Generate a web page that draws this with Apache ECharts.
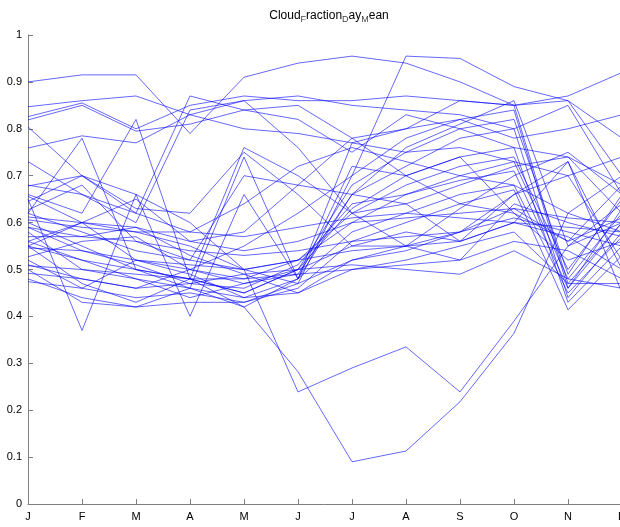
<!DOCTYPE html>
<html><head><meta charset="utf-8">
<script src="https://cdn.jsdelivr.net/npm/echarts@6/dist/echarts.min.js"></script>
<style>html,body{margin:0;padding:0;background:#fff}#c{width:620px;height:527px}</style>
</head><body><div id="c"></div>
<script>
const months = ['J','F','M','A','M','J','J','A','S','O','N','D'];
const yTicks = [0,0.1,0.2,0.3,0.4,0.5,0.6,0.7,0.8,0.9,1];
// high lines
const h1 = [0.900,0.915,0.915,0.790,0.910,0.940,0.955,0.940,0.900,0.850,0.870,0.920];
const h2 = [0.550,0.600,0.520,0.500,0.550,0.620,0.700,0.955,0.950,0.890,0.860,0.780];
const h3 = [0.847,0.860,0.870,0.830,0.860,0.870,0.850,0.840,0.830,0.800,0.850,0.660];
const h4 = [0.826,0.855,0.800,0.850,0.870,0.860,0.860,0.870,0.860,0.850,0.860,0.700];
const h5 = [0.819,0.850,0.795,0.810,0.840,0.850,0.780,0.800,0.820,0.780,0.800,0.830];
const h6 = [0.759,0.785,0.770,0.830,0.800,0.790,0.770,0.750,0.760,0.730,0.700,0.740];
const h7 = [0.804,0.700,0.620,0.870,0.840,0.820,0.750,0.830,0.800,0.760,0.740,0.680];
// seasonal (low spring, high autumn, dip in Nov)
const n1 = [0.50,0.43,0.42,0.46,0.42,0.48,0.77,0.80,0.86,0.85,0.47,0.60];
const n2 = [0.52,0.46,0.44,0.45,0.43,0.47,0.70,0.78,0.82,0.84,0.46,0.63];
const n3 = [0.58,0.50,0.48,0.44,0.47,0.49,0.66,0.72,0.78,0.80,0.44,0.58];
const n4 = [0.60,0.55,0.50,0.48,0.45,0.50,0.63,0.70,0.74,0.76,0.43,0.55];
const n5 = [0.51,0.48,0.46,0.50,0.48,0.52,0.60,0.66,0.70,0.73,0.48,0.62];
const n6 = [0.56,0.52,0.48,0.46,0.44,0.48,0.58,0.62,0.66,0.68,0.45,0.57];
const n7 = [0.48,0.44,0.42,0.43,0.43,0.46,0.56,0.60,0.64,0.67,0.414,0.53];
const n8 = [0.62,0.58,0.54,0.52,0.50,0.52,0.62,0.68,0.72,0.74,0.50,0.65];
const n9 = [0.55,0.47,0.43,0.48,0.45,0.50,0.68,0.75,0.80,0.82,0.49,0.66];
const n10 = [0.59,0.54,0.51,0.47,0.46,0.51,0.64,0.66,0.69,0.71,0.46,0.60];
// flat middle lines
const f1 = [0.612,0.600,0.590,0.560,0.540,0.560,0.600,0.610,0.620,0.630,0.610,0.600];
const f2 = [0.606,0.590,0.580,0.580,0.570,0.590,0.610,0.620,0.610,0.600,0.590,0.580];
const f3 = [0.570,0.570,0.560,0.540,0.530,0.540,0.560,0.570,0.580,0.610,0.580,0.550];
const f4 = [0.546,0.540,0.520,0.510,0.500,0.520,0.540,0.550,0.560,0.600,0.570,0.500];
const f5 = [0.508,0.500,0.490,0.480,0.480,0.490,0.500,0.510,0.520,0.560,0.540,0.480];
const f6 = [0.492,0.480,0.460,0.470,0.490,0.500,0.510,0.500,0.490,0.540,0.480,0.460];
// zigzag lines
const z1 = [0.62,0.78,0.50,0.46,0.74,0.48,0.66,0.76,0.81,0.86,0.55,0.64];
const z2 = [0.66,0.62,0.82,0.48,0.76,0.70,0.62,0.55,0.52,0.64,0.60,0.57];
const z3 = [0.65,0.37,0.66,0.40,0.66,0.48,0.72,0.70,0.74,0.62,0.52,0.56];
const z4 = [0.678,0.70,0.63,0.62,0.75,0.66,0.55,0.55,0.58,0.66,0.73,0.50];
const z5 = [0.656,0.60,0.65,0.56,0.58,0.68,0.78,0.70,0.64,0.62,0.56,0.68];
const z6 = [0.645,0.70,0.66,0.60,0.50,0.47,0.52,0.55,0.63,0.70,0.75,0.66];
const z7 = [0.627,0.68,0.56,0.52,0.70,0.68,0.66,0.64,0.56,0.60,0.73,0.45];
const z8 = [0.73,0.66,0.60,0.84,0.86,0.76,0.62,0.64,0.68,0.72,0.74,0.62];
const m1 = [0.59,0.57,0.59,0.53,0.49,0.45,0.52,0.54,0.58,0.63,0.56,0.61];
const m2 = [0.527,0.56,0.57,0.50,0.47,0.50,0.55,0.58,0.56,0.66,0.70,0.52];
const m3 = [0.474,0.46,0.52,0.49,0.44,0.45,0.50,0.52,0.55,0.58,0.47,0.47];
const m4 = [0.68,0.66,0.62,0.58,0.64,0.72,0.76,0.73,0.70,0.68,0.62,0.70];
// outliers dropping in mid-year
const o1 = [0.55,0.52,0.50,0.48,0.42,0.282,0.09,0.113,0.218,0.364,0.62,0.58];
const o2 = [0.56,0.60,0.58,0.55,0.50,0.239,0.29,0.335,0.239,0.39,0.55,0.60];

const allLines = [h1,h2,h3,h4,h5,h6,h7,n1,n2,n3,n4,n5,n6,n7,n8,n9,n10,f1,f2,f3,f4,f5,f6,z1,z2,z3,z4,z5,z6,z7,z8,m1,m2,m3,m4,o1,o2];

const chart = echarts.init(document.getElementById('c'), null, {renderer:'canvas'});
const axisGray = '#7f7f7f';
chart.setOption({
  animation:false,
  title:{
    text:'{n|Cloud}{s|F}{n|raction}{s|D}{n|ay}{s|M}{n|ean}',
    left:324, textAlign:'center', top:2,
    textStyle:{
      fontWeight:'normal',
      rich:{
        n:{fontFamily:'Liberation Sans', fontSize:12, fontWeight:'normal', color:'#000', lineHeight:17, verticalAlign:'top', padding:[3,0,0,0]},
        s:{fontFamily:'Liberation Sans', fontSize:9, fontWeight:'normal', color:'#444', lineHeight:17, verticalAlign:'bottom', padding:[11,0,0,0]}
      }
    }
  },
  grid:{left:28, top:35, width:594, height:469, containLabel:false, outerBoundsMode:'none'},
  xAxis:{
    type:'category', data:months, boundaryGap:false,
    axisLine:{lineStyle:{color:axisGray, width:1}},
    axisTick:{inside:true, length:5, alignWithLabel:true, lineStyle:{color:axisGray}},
    axisLabel:{color:'#000', fontFamily:'Liberation Sans', fontSize:11, margin:7, interval:0},
    splitLine:{show:false}
  },
  yAxis:{
    type:'value', min:0, max:1, interval:0.1,
    axisLine:{show:true, lineStyle:{color:axisGray, width:1}},
    axisTick:{show:true, inside:true, length:5, lineStyle:{color:axisGray}},
    axisLabel:{color:'#000', fontFamily:'Liberation Sans', fontSize:11, margin:6,
      formatter:function(v){ const t = yTicks.find(x=>Math.abs(x-v)<1e-9); return String(Math.round((t===undefined?v:t)*10)/10); }},
    splitLine:{show:false}
  },
  series: allLines.map(d=>({
    type:'line', data:d, symbol:'none', silent:true,
    lineStyle:{color:'rgba(0,0,255,0.6)', width:1}
  }))
});
</script></body></html>
